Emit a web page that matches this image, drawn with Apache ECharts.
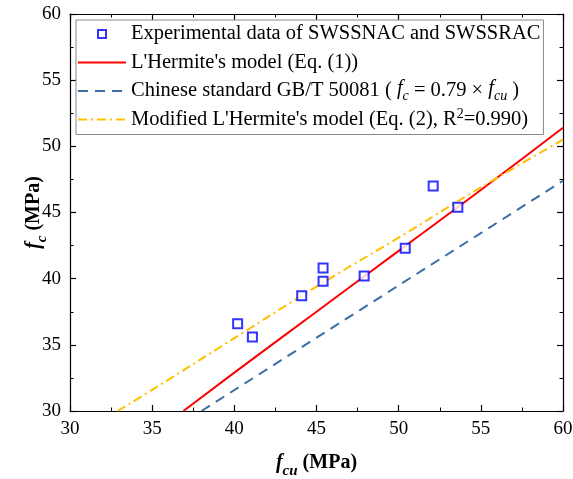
<!DOCTYPE html>
<html>
<head>
<meta charset="utf-8">
<script src="https://cdn.jsdelivr.net/npm/echarts@6/dist/echarts.min.js"></script>
<style>
  html, body { margin: 0; padding: 0; background: #fff; }
  #chart { width: 573px; height: 479px; }
</style>
</head>
<body>
<div id="chart"></div>
<script>
// Measured cube (fcu) and prism (fc) strengths, MPa
const fcuExp = [40.2, 41.1, 44.1, 45.4, 45.4, 47.9, 50.4, 52.1, 53.6];
const fcExp  = [36.6, 35.6, 38.7, 40.8, 39.8, 40.2, 42.3, 47.0, 45.4];

// L'Hermite's model curve, Eq. (1)
const hermiteFcu = [36.9, 40, 45, 50, 55, 60];
const hermiteFc  = [30.0, 32.9, 37.5, 42.1, 46.7, 51.4];

// Chinese standard GB/T 50081: fc = 0.79 fcu
const gbFcu = [38.0, 60];
const gbFc  = [30.0, 47.4];

// Modified L'Hermite's model, Eq. (2)
const modFcu = [32.9, 35, 40, 45, 50, 55, 60];
const modFc  = [30.0, 31.6, 35.5, 39.4, 43.1, 46.9, 50.5];

// Axis ranges and tick labels
const xTicks = [30, 35, 40, 45, 50, 55, 60];
const yTicks = [30, 35, 40, 45, 50, 55, 60];

const names = [
  'Experimental data of SWSSNAC and SWSSRAC',
  "L'Hermite's model (Eq. (1))",
  'Chinese standard GB/T 50081 (fc = 0.79 × fcu)',
  "Modified L'Hermite's model (Eq. (2), R2=0.990)"
];
const legendRich = {
  [names[0]]: 'Experimental data of SWSSNAC and SWSSRAC',
  [names[1]]: "L'Hermite's model (Eq. (1))",
  [names[2]]: 'Chinese standard GB/T 50081 ( {i|f}{sub|c} = 0.79 × {i|f}{sub|cu} )',
  [names[3]]: "Modified L'Hermite's model (Eq. (2), R{sup|2}=0.990)"
};

const pairs = (xs, ys) => xs.map((x, i) => [x, ys[i]]);
const FONT = "'Liberation Serif', 'Times New Roman', serif";

const chart = echarts.init(document.getElementById('chart'), null, { renderer: 'canvas' });

const baseAxis = {
  min: xTicks[0], max: xTicks[xTicks.length - 1], interval: 5,
  axisLine: { show: true, onZero: false, lineStyle: { color: '#000', width: 1.2 } },
  axisTick: { show: true, inside: true, length: 6, lineStyle: { color: '#000', width: 1.2 } },
  minorTick: { show: true, splitNumber: 2, length: 3.5, lineStyle: { color: '#000', width: 1 } },
  splitLine: { show: false }
};

const titleRich = {
  i: { fontFamily: FONT, fontSize: 20, fontWeight: 'bold', fontStyle: 'italic', color: '#000', lineHeight: 26, verticalAlign: 'top' },
  sub: { fontFamily: FONT, fontSize: 15, fontWeight: 'bold', fontStyle: 'italic', color: '#000', lineHeight: 26, verticalAlign: 'bottom' },
  b: { fontFamily: FONT, fontSize: 20, fontWeight: 'bold', color: '#000', lineHeight: 26, verticalAlign: 'top' }
};

const hideDot = { opacity: 0 };
const LEG = 20.5;

chart.setOption({
  animation: false,
  backgroundColor: '#fff',
  textStyle: { fontFamily: FONT },
  grid: { left: 70, right: 10, top: 14, bottom: 68, containLabel: false, outerBoundsMode: 'none' },
  xAxis: [
    Object.assign({}, baseAxis, {
      type: 'value', position: 'bottom',
      axisLabel: { color: '#000', fontFamily: FONT, fontSize: 19, margin: 9 },
      name: '{i|f}{sub|cu}{b| (MPa)}',
      nameLocation: 'middle', nameGap: 42, nameMoveOverlap: false,
      nameTextStyle: { color: '#000', fontFamily: FONT, fontSize: 20, fontWeight: 'bold', rich: titleRich }
    }),
    Object.assign({}, baseAxis, {
      type: 'value', position: 'top', axisLabel: { show: false }
    })
  ],
  yAxis: [
    Object.assign({}, baseAxis, {
      type: 'value', position: 'left',
      min: yTicks[0], max: yTicks[yTicks.length - 1],
      axisLabel: { color: '#000', fontFamily: FONT, fontSize: 19, margin: 9 },
      name: '{i|f}{sub|c}{b| (MPa)}',
      nameLocation: 'middle', nameGap: 20, nameRotate: 90, nameMoveOverlap: false,
      nameTextStyle: { color: '#000', fontFamily: FONT, fontSize: 20, fontWeight: 'bold', rich: titleRich }
    }),
    Object.assign({}, baseAxis, {
      type: 'value', position: 'right',
      min: yTicks[0], max: yTicks[yTicks.length - 1],
      axisLabel: { show: false }
    })
  ],
  legend: {
    orient: 'vertical',
    left: 76, top: 20,
    padding: [2, 3, 3, 1],
    itemWidth: 48, itemHeight: 8, itemGap: 4.5,
    backgroundColor: '#fff',
    borderColor: '#888', borderWidth: 1,
    data: [
      { name: names[0], icon: 'path://M0,0L10,0L10,10L0,10Z' },
      { name: names[1], itemStyle: hideDot },
      { name: names[2], itemStyle: hideDot },
      { name: names[3], itemStyle: hideDot }
    ],
    formatter: n => legendRich[n],
    textStyle: {
      color: '#000', fontFamily: FONT, fontSize: LEG, lineHeight: 24,
      rich: {
        i: { fontFamily: FONT, fontSize: LEG, fontStyle: 'italic', color: '#000', lineHeight: 24, verticalAlign: 'top' },
        sub: { fontFamily: FONT, fontSize: 14, fontStyle: 'italic', color: '#000', lineHeight: 24, verticalAlign: 'bottom' },
        sup: { fontFamily: FONT, fontSize: 14, color: '#000', lineHeight: 24, verticalAlign: 'top' }
      }
    }
  },
  series: [
    {
      name: names[0], type: 'scatter', xAxisIndex: 0, yAxisIndex: 0,
      symbol: 'rect', symbolSize: 9,
      itemStyle: { color: '#fff', borderColor: '#0000ff', borderWidth: 2 },
      data: pairs(fcuExp, fcExp), z: 5
    },
    {
      name: names[1], type: 'line', symbol: 'none', smooth: true,
      lineStyle: { color: '#ff0000', width: 2 },
      itemStyle: { color: '#ff0000' },
      data: pairs(hermiteFcu, hermiteFc)
    },
    {
      name: names[2], type: 'line', symbol: 'none',
      lineStyle: { color: '#3a6ea6', width: 2, type: [10, 7] },
      itemStyle: { color: '#3a6ea6' },
      data: pairs(gbFcu, gbFc)
    },
    {
      name: names[3], type: 'line', symbol: 'none', smooth: true,
      lineStyle: { color: '#ffc000', width: 2, type: [9, 4, 2, 4] },
      itemStyle: { color: '#ffc000' },
      data: pairs(modFcu, modFc)
    }
  ]
});
</script>
</body>
</html>
